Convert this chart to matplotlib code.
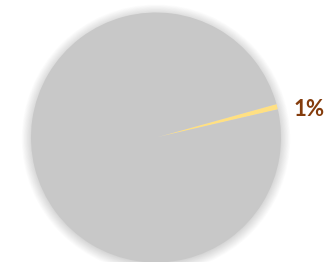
import matplotlib
matplotlib.use("Agg")
import matplotlib.pyplot as plt
from matplotlib.patches import Circle

categories = ["Share", "Rest"]
values = [0.7, 99.3]
colors = ["#FFE083", "#C8C8C8"]
label_color = "#843C0C"

fig = plt.figure(figsize=(3.24, 2.62), dpi=100)
ax = fig.add_axes([0, 0, 1, 1])

# soft shadow
for i in range(14):
    r = 0.99 + 0.006 * (i + 1)
    ax.add_patch(Circle((0.0, -0.01), r, facecolor="#000000", alpha=0.012, edgecolor="none", zorder=0))

ax.pie(values, colors=colors, startangle=13, counterclock=True, radius=1.0,
       wedgeprops=dict(edgecolor="none", linewidth=0), center=(0, 0), frame=True)
ax.set_xlim(-1.248, 1.344)
ax.set_ylim(-0.996, 1.1)
ax.set_aspect("auto")
ax.axis("off")

share = values[0] / sum(values) * 100
ax.text(1.225, 0.22, f"{max(1, round(share))}%", color=label_color, fontsize=16,
        fontweight="bold", family=["Lato", "DejaVu Sans"], ha="center", va="center")

fig.savefig("out.png", dpi=100)
